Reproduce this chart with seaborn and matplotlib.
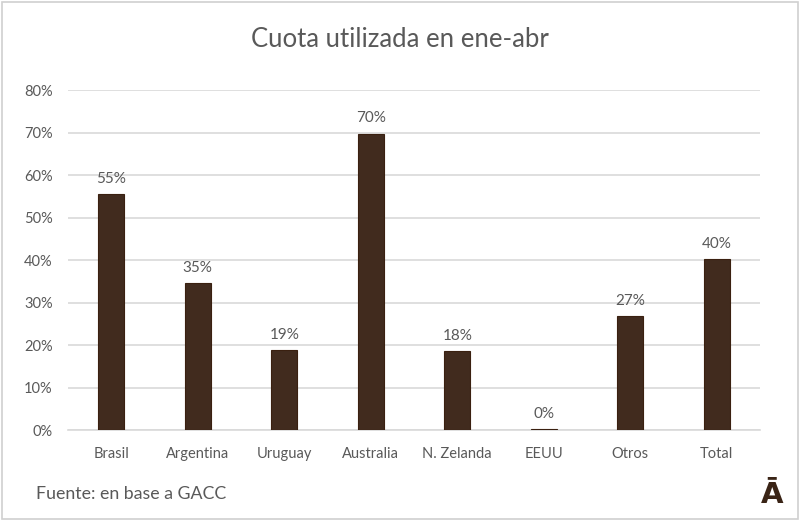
import pandas as pd
import matplotlib.pyplot as plt
import seaborn as sns

# data
paises = ['Brasil', 'Argentina', 'Uruguay', 'Australia', 'N. Zelanda', 'EEUU', 'Otros', 'Total']
cuota = [0.555, 0.346, 0.188, 0.698, 0.186, 0.003, 0.268, 0.402]
etiquetas = ['55%', '35%', '19%', '70%', '18%', '0%', '27%', '40%']
ticks_y = [0, 0.1, 0.2, 0.3, 0.4, 0.5, 0.6, 0.7, 0.8]

df = pd.DataFrame({'pais': paises, 'cuota': cuota})

sns.set_theme(style='white')
plt.rcParams['font.family'] = ['Lato', 'DejaVu Sans']

gris = '#595959'
marron = '#472a18'

fig = plt.figure(figsize=(8, 5.21), dpi=100)
ax = fig.add_axes([0.085, 0.174, 0.865, 0.653])

sns.barplot(data=df, x='pais', y='cuota', color=marron, width=0.3,
            edgecolor='#3a2010', linewidth=0.8, ax=ax, zorder=3)

for i, (v, t) in enumerate(zip(cuota, etiquetas)):
    ax.text(i, v + 0.02, t, ha='center', va='bottom', fontsize=11, color=gris)

ax.set_ylim(0, 0.8)
ax.set_xlim(-0.5, len(paises) - 0.5)
ax.set_yticks(ticks_y)
ax.set_yticklabels([f'{int(round(t * 100))}%' for t in ticks_y])
ax.yaxis.grid(True, color='#d9d9d9', linewidth=1.2, zorder=0)
ax.set_axisbelow(True)
for s in ['top', 'right', 'left']:
    ax.spines[s].set_visible(False)
ax.spines['bottom'].set_color('#d9d9d9')
ax.spines['bottom'].set_linewidth(1.2)
ax.tick_params(axis='both', length=0, labelsize=10.5, colors=gris)
ax.tick_params(axis='x', pad=12)
ax.tick_params(axis='y', pad=11)
ax.set_xlabel('')
ax.set_ylabel('')

fig.text(0.5, 0.925, 'Cuota utilizada en ene-abr', ha='center', va='center',
         fontsize=18.5, color=gris)
fig.text(0.045, 0.052, 'Fuente: en base a GACC', ha='left', va='center',
         fontsize=12.8, color=gris)
fig.text(0.965, 0.05, 'Ā', ha='center', va='center', fontsize=21,
         fontweight='bold', family=['DejaVu Sans'], color='#3a2416')

# gray frame around the figure
fig.patches.append(plt.Rectangle((0.002, 0.003), 0.996, 0.994, transform=fig.transFigure,
                                 fill=False, edgecolor='#d0d0d0', linewidth=1.2))

fig.savefig('out.png', dpi=100)
